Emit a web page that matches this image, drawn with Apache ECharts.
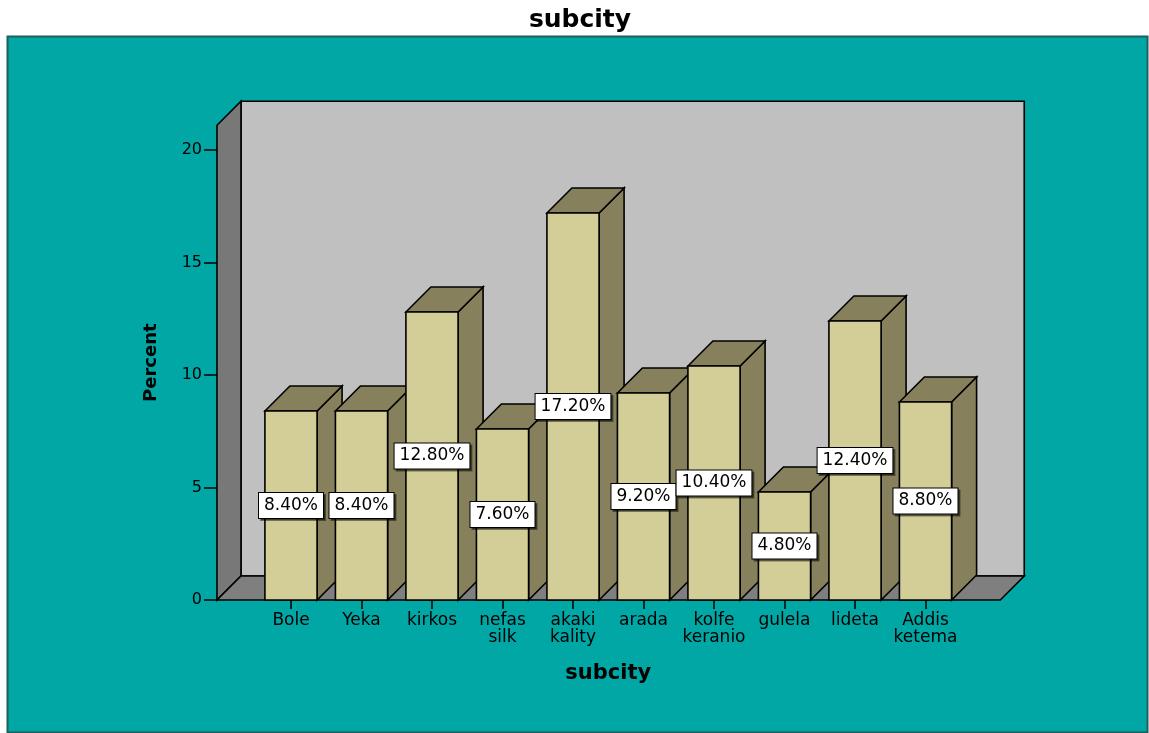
<!DOCTYPE html>
<html>
<head>
<meta charset="utf-8">
<title>subcity</title>
<script src="https://cdn.jsdelivr.net/npm/echarts@6/dist/echarts.min.js"></script>
<style>
  html, body { margin: 0; padding: 0; background: #fff; }
  #chart { width: 1149px; height: 733px; }
</style>
</head>
<body>
<div id="chart"></div>
<script>
// Share of respondents by sub-city (percent)
const categories = ['Bole', 'Yeka', 'kirkos', 'nefas silk', 'akaki kality', 'arada', 'kolfe keranio', 'gulela', 'lideta', 'Addis ketema'];
const percents = [8.4, 8.4, 12.8, 7.6, 17.2, 9.2, 10.4, 4.8, 12.4, 8.8];
const yTicks = [0, 5, 10, 15, 20];

// 3D box geometry (pixels / category units)
const Y_MAX = 21.1;
const WALL_DEPTH = 24;
const BAR_DEPTH = 25;
const BAR_RATIO = 0.74;
const WALL_LEFT = -1.05;   // in category steps from the first category
const WALL_RIGHT = 10.06;

const FONT = '"DejaVu Sans", "Liberation Sans", Arial, sans-serif';
const FRONT = '#d3ce97';
const SHADE = '#86815c';
const EDGE = '#000';

const chart = echarts.init(document.getElementById('chart'), null, { renderer: 'canvas' });

function categoryX(api, idx) {
  const p0 = api.coord([0, 0]);
  const p1 = api.coord([1, 0]);
  return p0[0] + (p1[0] - p0[0]) * idx;
}

function renderWalls(params, api) {
  const base = api.coord([0, 0]);
  const top = api.coord([0, Y_MAX]);
  const xl = categoryX(api, WALL_LEFT);
  const xr = categoryX(api, WALL_RIGHT);
  const y0 = base[1];
  const y1 = top[1];
  const d = WALL_DEPTH;
  const lw = 1.6;
  return {
    type: 'group',
    children: [
      {
        type: 'rect',
        shape: { x: xl + d, y: y1 - d, width: xr - xl, height: y0 - y1 },
        style: { fill: '#c0c0c0', stroke: EDGE, lineWidth: lw }
      },
      {
        type: 'polygon',
        shape: { points: [[xl, y0], [xl, y1], [xl + d, y1 - d], [xl + d, y0 - d]] },
        style: { fill: '#787878', stroke: EDGE, lineWidth: lw }
      },
      {
        type: 'polygon',
        shape: { points: [[xl, y0], [xr, y0], [xr + d, y0 - d], [xl + d, y0 - d]] },
        style: { fill: '#7f7f7f', stroke: EDGE, lineWidth: lw }
      }
    ]
  };
}

function renderBar(params, api) {
  const i = api.value(0);
  const v = api.value(1);
  const top = api.coord([i, v]);
  const base = api.coord([i, 0]);
  const hw = api.size([1, 0])[0] * BAR_RATIO / 2;
  const d = BAR_DEPTH;
  const xl = top[0] - hw, xr = top[0] + hw;
  const yt = top[1], yb = base[1];
  const lw = 1.6;
  return {
    type: 'group',
    children: [
      {
        type: 'polygon',
        shape: { points: [[xr, yt], [xr + d, yt - d], [xr + d, yb - d], [xr, yb]] },
        style: { fill: SHADE, stroke: EDGE, lineWidth: lw }
      },
      {
        type: 'polygon',
        shape: { points: [[xl, yt], [xl + d, yt - d], [xr + d, yt - d], [xr, yt]] },
        style: { fill: SHADE, stroke: EDGE, lineWidth: lw }
      },
      {
        type: 'rect',
        shape: { x: xl, y: yt, width: xr - xl, height: yb - yt },
        style: { fill: FRONT, stroke: EDGE, lineWidth: lw }
      }
    ]
  };
}

function renderValueLabel(params, api) {
  const i = api.value(0);
  const v = api.value(1);
  const mid = api.coord([i, v / 2]);
  return {
    type: 'text',
    style: {
      text: v.toFixed(2) + '%',
      x: mid[0],
      y: mid[1],
      align: 'center',
      verticalAlign: 'middle',
      font: '17px ' + FONT,
      fill: '#000',
      backgroundColor: '#fff',
      borderColor: '#000',
      borderWidth: 1,
      padding: [4, 5, 4, 5],
      shadowColor: 'rgba(0,0,0,0.45)',
      shadowOffsetX: 2,
      shadowOffsetY: 2,
      shadowBlur: 0
    }
  };
}

const barData = percents.map((v, i) => [i, v]);

chart.setOption({
  animation: false,
  backgroundColor: '#fff',
  title: {
    text: 'subcity',
    left: 575,
    textAlign: 'center',
    top: 3,
    textStyle: { fontFamily: FONT, fontWeight: 'bold', fontSize: 25, color: '#000' }
  },
  graphic: [
    {
      type: 'rect',
      z: -100,
      shape: { x: 7.5, y: 36.5, width: 1140, height: 696 },
      style: { fill: '#00a7a5', stroke: '#1e5e5d', lineWidth: 2 }
    }
  ],
  grid: {
    left: 255.75,
    right: 188.25,
    top: 600 - Y_MAX * 22.5,
    bottom: 133,
    containLabel: false
  },
  xAxis: {
    type: 'category',
    data: categories,
    boundaryGap: true,
    axisLine: { show: false },
    axisTick: { show: true, alignWithLabel: true, length: 9, lineStyle: { color: '#000', width: 1.5 } },
    axisLabel: {
      interval: 0,
      margin: 12,
      fontFamily: FONT,
      fontSize: 17,
      lineHeight: 17,
      color: '#000',
      formatter: (s) => s.replace(' ', '\n')
    },
    name: 'subcity',
    nameLocation: 'middle',
    nameGap: 63,
    nameTextStyle: { fontFamily: FONT, fontWeight: 'bold', fontSize: 21, color: '#000' }
  },
  yAxis: {
    type: 'value',
    min: 0,
    max: Y_MAX,
    interval: 5,
    offset: 38.75,
    axisLine: { show: false },
    splitLine: { show: false },
    axisTick: { show: true, length: 13, customValues: yTicks, lineStyle: { color: '#000', width: 1.5 } },
    axisLabel: {
      margin: 15,
      customValues: yTicks,
      fontFamily: FONT,
      fontSize: 16,
      color: '#000'
    },
    name: 'Percent',
    nameLocation: 'middle',
    nameGap: 57,
    nameTextStyle: { fontFamily: FONT, fontWeight: 'bold', fontSize: 18, color: '#000' }
  },
  series: [
    {
      type: 'custom',
      name: 'frame',
      z: 1,
      silent: true,
      data: [[0, 0]],
      renderItem: renderWalls
    },
    {
      type: 'custom',
      name: 'Percent',
      z: 2,
      data: barData,
      encode: { x: 0, y: 1 },
      renderItem: renderBar
    },
    {
      type: 'custom',
      name: 'labels',
      z: 5,
      silent: true,
      data: barData,
      encode: { x: 0, y: 1 },
      renderItem: renderValueLabel
    }
  ]
});
</script>
</body>
</html>
